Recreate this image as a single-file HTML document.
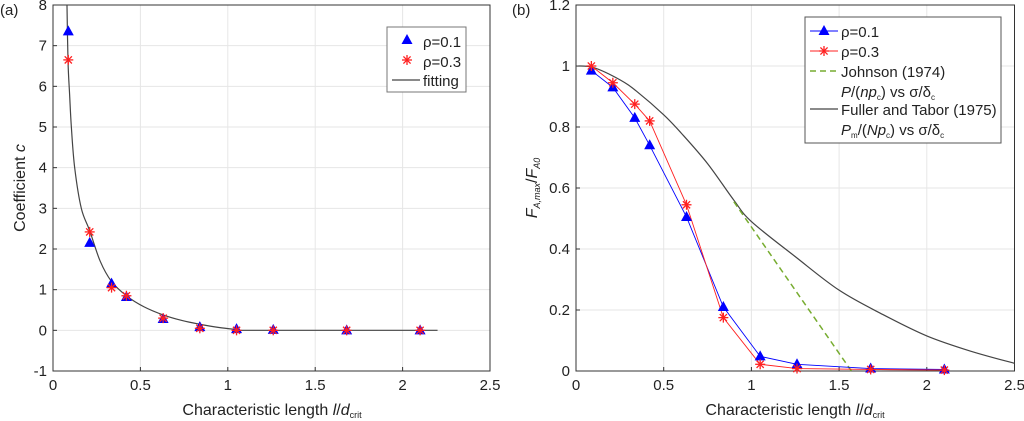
<!DOCTYPE html>
<html><head><meta charset="utf-8"><style>
html,body{margin:0;padding:0;background:#fff;}
svg{display:block;font-family:"Liberation Sans",sans-serif;}
</style></head><body>
<svg id="chart" width="1024" height="421" viewBox="0 0 1024 421"></svg>
<script>
const xs = [0.0875,0.21,0.335,0.42,0.63,0.84,1.05,1.26,1.68,2.1];
const cBlue = [7.35,2.15,1.15,0.82,0.28,0.08,0.03,0.01,0,0];
const cRed = [6.65,2.42,1.05,0.85,0.3,0.05,0.0,0.0,0,0];
const fitX = [0.08,0.086,0.095,0.105,0.124,0.162,0.21,0.27,0.335,0.42,0.52,0.63,0.74,0.84,0.95,1.05,1.1,1.5,2.2];
const fitY = [8,6.6,5.8,5,4,3,2.45,1.7,1.2,0.85,0.58,0.38,0.24,0.15,0.07,0.02,0,0,0];
const fBlue = [0.985,0.93,0.83,0.74,0.505,0.21,0.048,0.022,0.008,0.005];
const fRed = [1.0,0.945,0.875,0.82,0.545,0.175,0.022,0.008,0.005,0.003];
const ftX = [0,0.1,0.25,0.35,0.5,0.6,0.75,0.9,1.0,1.25,1.5,1.75,2.0,2.25,2.5];
const ftY = [1,0.995,0.955,0.915,0.84,0.78,0.68,0.56,0.49,0.375,0.265,0.185,0.115,0.065,0.025];
const jX = [0.9,1.57];
const jY = [0.555,0];
const xTicks = [0,0.5,1,1.5,2,2.5];
const yTicksA = [-1,0,1,2,3,4,5,6,7,8];
const yTicksB = [0,0.2,0.4,0.6,0.8,1,1.2];

const NS="http://www.w3.org/2000/svg";
const svg=document.getElementById('chart');
function mk(tag,attrs,parent){const e=document.createElementNS(NS,tag);for(const k in attrs)e.setAttribute(k,attrs[k]);(parent||svg).appendChild(e);return e;}

function panel(o){
  const g=mk('g',{});
  
  
  const sx=v=>o.x0+(v-o.xmin)/(o.xmax-o.xmin)*(o.x1-o.x0);
  const sy=v=>o.y1-(v-o.ymin)/(o.ymax-o.ymin)*(o.y1-o.y0);
  mk('rect',{x:o.x0,y:o.y0,width:o.x1-o.x0,height:o.y1-o.y0,fill:'#fff'},g);
  xTicks.forEach(t=>{
    const X=sx(t);
    mk('line',{x1:X,x2:X,y1:o.y0,y2:o.y1,stroke:'#e6e6e6','stroke-width':1},g);
    mk('line',{x1:X,x2:X,y1:o.y1,y2:o.y1-4,stroke:'#333'},g);
    const tx=mk('text',{x:X,y:o.y1+19,'text-anchor':'middle','font-size':15,fill:'#222'},g);tx.textContent=t;
    
    
  });
  o.yTicks.forEach(t=>{
    const Y=sy(t);
    mk('line',{x1:o.x0,x2:o.x1,y1:Y,y2:Y,stroke:'#e6e6e6','stroke-width':1},g);
    mk('line',{x1:o.x0,x2:o.x0+4,y1:Y,y2:Y,stroke:'#333'},g);
    const tx=mk('text',{x:o.x0-6,y:Y+5,'text-anchor':'end','font-size':15,fill:'#222'},g);tx.textContent=t;
    
    
  });
  mk('rect',{x:o.x0,y:o.y0,width:o.x1-o.x0,height:o.y1-o.y0,fill:'none',stroke:'#333','stroke-width':1},g);
  return {g,sx,sy};
}
function tri(g,x,y,name){const p=mk('path',{d:`M${x},${y-6}L${x+5.5},${y+4}L${x-5.5},${y+4}Z`,fill:'#0000ff'},g);return p;}
function star(g,x,y,name){const s=mk('g',{stroke:'#ff2020','stroke-width':1.3},g);
  mk('line',{x1:x-5,x2:x+5,y1:y,y2:y},s);mk('line',{x1:x,x2:x,y1:y-5,y2:y+5},s);
  mk('line',{x1:x-3.6,x2:x+3.6,y1:y-3.6,y2:y+3.6},s);mk('line',{x1:x-3.6,x2:x+3.6,y1:y+3.6,y2:y-3.6},s);return s;}
function poly(g,X,Y,P,attrs,name){const pts=X.map((v,i)=>P.sx(v)+','+P.sy(Y[i])).join(' ');const e=mk('polyline',Object.assign({points:pts,fill:'none'},attrs),g);return e;}
function smooth(g,X,Y,P,attrs,name){
  const p=X.map((v,i)=>[P.sx(v),P.sy(Y[i])]);
  let d='M'+p[0][0]+','+p[0][1];
  for(let i=0;i<p.length-1;i++){
    const p0=p[Math.max(i-1,0)],p1=p[i],p2=p[i+1],p3=p[Math.min(i+2,p.length-1)];
    const c1=[p1[0]+(p2[0]-p0[0])/6,p1[1]+(p2[1]-p0[1])/6];
    const c2=[p2[0]-(p3[0]-p1[0])/6,p2[1]-(p3[1]-p1[1])/6];
    d+=`C${c1[0]},${c1[1]} ${c2[0]},${c2[1]} ${p2[0]},${p2[1]}`;
  }
  const e=mk('path',Object.assign({d,fill:'none'},attrs),g);return e;}
function txt(x,y,s,attrs,name,parent){const e=mk('text',Object.assign({x,y,'font-size':15,fill:'#222'},attrs||{}),parent);e.innerHTML=s;return e;}

// Panel A
const A=panel({name:'panel-a',x0:53,x1:490,y0:5,y1:371,xmin:0,xmax:2.5,ymin:-1,ymax:8,yTicks:yTicksA});
smooth(A.g,fitX,fitY,A,{stroke:'#444','stroke-width':1.2},'fitting-line');
xs.forEach((x,i)=>tri(A.g,A.sx(x),A.sy(cBlue[i]),'point-rho-0-1'));
xs.forEach((x,i)=>star(A.g,A.sx(x),A.sy(cRed[i]),'point-rho-0-3'));
txt(0,15,'(a)',{'font-size':15},'panel-a-label');
txt(25,188,'Coefficient <tspan font-style="italic">c</tspan>',{transform:'rotate(-90 25 188)','text-anchor':'middle','font-size':16},'y-axis-title-a');
txt(272,415,'Characteristic length <tspan font-style="italic">l</tspan>/<tspan font-style="italic">d</tspan><tspan font-size="9" dy="3">crit</tspan>',{'text-anchor':'middle','font-size':16},'x-axis-title-a');
const la=mk('g',{});
mk('rect',{x:387,y:27,width:79,height:65,fill:'#fff',stroke:'#777'},la);
tri(la,407,40,'legend-marker-rho-0-1');txt(423,47,'ρ=0.1',{},'legend-entry-rho-0-1',la);
star(la,407,60,'legend-marker-rho-0-3');txt(423,67,'ρ=0.3',{},'legend-entry-rho-0-3',la);
mk('line',{x1:392,x2:420,y1:80,y2:80,stroke:'#444','stroke-width':1.2},la);txt(423,86,'fitting',{},'legend-entry-fitting',la);

// Panel B
const B=panel({name:'panel-b',x0:576,x1:1014.5,y0:5,y1:371,xmin:0,xmax:2.5,ymin:0,ymax:1.2,yTicks:yTicksB});
smooth(B.g,ftX,ftY,B,{stroke:'#444','stroke-width':1.2},'fuller-tabor-line');
poly(B.g,jX,jY,B,{stroke:'#77ac30','stroke-width':1.5,'stroke-dasharray':'6,4'},'johnson-line');
poly(B.g,xs,fBlue,B,{stroke:'#0000ff','stroke-width':0.9},'rho-0-1-line');
poly(B.g,xs,fRed,B,{stroke:'#ff2020','stroke-width':0.9},'rho-0-3-line');
xs.forEach((x,i)=>tri(B.g,B.sx(x),B.sy(fBlue[i]),'point-rho-0-1'));
xs.forEach((x,i)=>star(B.g,B.sx(x),B.sy(fRed[i]),'point-rho-0-3'));
txt(512,15,'(b)',{'font-size':15},'panel-b-label');
txt(537,188,'<tspan font-style="italic">F</tspan><tspan font-size="9" font-style="italic" dy="3">A,max</tspan><tspan dy="-3">/</tspan><tspan font-style="italic">F</tspan><tspan font-size="9" font-style="italic" dy="3">A0</tspan>',{transform:'rotate(-90 537 188)','text-anchor':'middle','font-size':16},'y-axis-title-b');
txt(795,415,'Characteristic length <tspan font-style="italic">l</tspan>/<tspan font-style="italic">d</tspan><tspan font-size="9" dy="3">crit</tspan>',{'text-anchor':'middle','font-size':16},'x-axis-title-b');
const lb=mk('g',{});
mk('rect',{x:805,y:17,width:196,height:126,fill:'#fff',stroke:'#555'},lb);
mk('line',{x1:810,x2:838,y1:31,y2:31,stroke:'#0000ff'},lb);tri(lb,824,31,'legend-marker-rho-0-1');txt(841,37,'ρ=0.1',{},'legend-entry-rho-0-1',lb);
mk('line',{x1:810,x2:838,y1:51,y2:51,stroke:'#ff2020'},lb);star(lb,824,51,'legend-marker-rho-0-3');txt(841,57,'ρ=0.3',{},'legend-entry-rho-0-3',lb);
mk('line',{x1:810,x2:838,y1:71,y2:71,stroke:'#77ac30','stroke-width':1.5,'stroke-dasharray':'6,4'},lb);txt(841,77,'Johnson (1974)',{},'legend-entry-johnson',lb);
txt(841,97,'<tspan font-style="italic">P</tspan>/(<tspan font-style="italic">np</tspan><tspan font-size="8" dy="3">c</tspan><tspan dy="-3">)  vs σ/δ</tspan><tspan font-size="8" dy="3">c</tspan>',{},'legend-johnson-subtitle',lb);
mk('line',{x1:810,x2:838,y1:109,y2:109,stroke:'#444','stroke-width':1.2},lb);txt(841,115,'Fuller and Tabor (1975)',{},'legend-entry-fuller-tabor',lb);
txt(841,135,'<tspan font-style="italic">P</tspan><tspan font-size="8" dy="3">m</tspan><tspan dy="-3">/(</tspan><tspan font-style="italic">Np</tspan><tspan font-size="8" dy="3">c</tspan><tspan dy="-3">)  vs σ/δ</tspan><tspan font-size="8" dy="3">c</tspan>',{},'legend-fuller-subtitle',lb);
</script>
</body></html>
